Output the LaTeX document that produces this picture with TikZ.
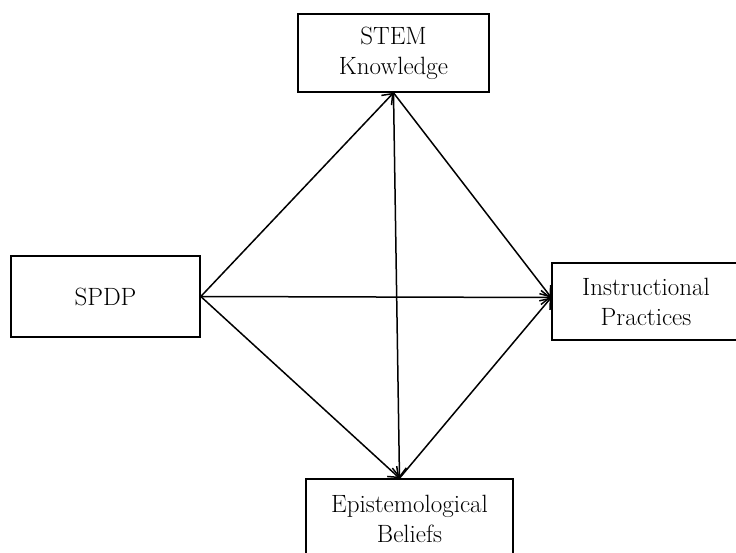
\documentclass[tikz,border=0pt]{standalone}
\usepackage{tikz}
\usetikzlibrary{arrows.meta}

\begin{document}
\begin{tikzpicture}[x=1pt,y=-1pt,
  box/.style={draw, line width=1.6pt, align=center, inner sep=0pt,
    font=\fontsize{25}{30}\selectfont},
  link/.style={-{Straight Barb[length=9pt,width=14pt]}, line width=1.5pt}]
  \useasboundingbox (0,0) rectangle (736,553);

  \node[box, minimum width=189pt, minimum height=81pt] (spdp) at (105.5,296.5) {SPDP};
  \node[box, minimum width=191pt, minimum height=78pt] (stem) at (393.5,53) {STEM\\Knowledge};
  \node[box, minimum width=188pt, minimum height=77pt] (instr) at (646,301.5) {Instructional\\Practices};
  \node[box, minimum width=207pt, minimum height=80pt] (epist) at (409.5,519) {Epistemological\\Beliefs};

  \coordinate (etop) at ([xshift=-10pt]epist.north);
  \coordinate (ileft) at ([yshift=4pt]instr.west);

  \draw[link] (spdp.east) -- (stem.south);
  \draw[link] (spdp.east) -- (ileft);
  \draw[link] (spdp.east) -- (etop);
  \draw[link] (stem.south) -- (etop);
  \draw[link] (stem.south) -- (ileft);
  \draw[link] (etop) -- (ileft);
\end{tikzpicture}
\end{document}
